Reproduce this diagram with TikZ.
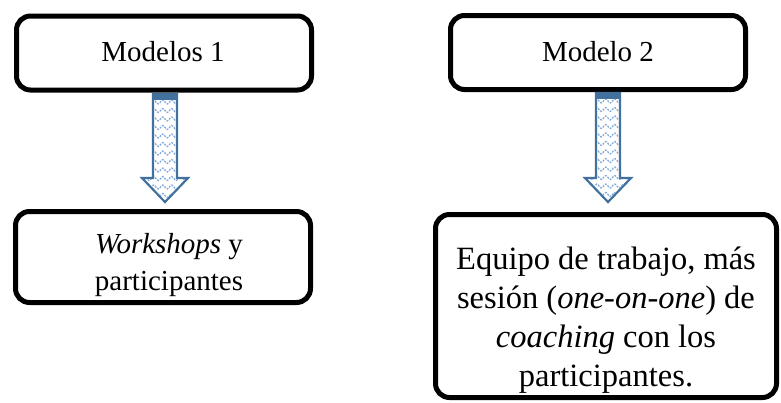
\documentclass[tikz,border=0pt]{standalone}
\usepackage{fontspec}
\setmainfont{Liberation Serif}
\definecolor{arrowblue}{HTML}{41719C}
\definecolor{waveblue}{HTML}{7FA7D9}
\begin{document}
\begin{tikzpicture}[x=1pt,y=-1pt,
  box/.style={draw=black,line width=5pt,rounded corners=14pt,fill=white,inner sep=0pt},
  txt/.style={align=center,font=\fontsize{29}{37}\selectfont,inner sep=0pt},
  bigtxt/.style={align=center,font=\fontsize{32.5}{39.2}\selectfont,inner sep=0pt},
  blockarrow/.style={draw=arrowblue,line width=2.2pt,fill=white,line join=miter},
  wave/.style={draw=waveblue,line width=1.2pt,dash pattern=on 2pt off 1.2pt}]
\useasboundingbox (0,0) rectangle (781,402);
% boxes
\node[box,minimum width=295pt,minimum height=74pt] (b1) at (164,53) {};
\node[box,minimum width=295pt,minimum height=74pt] (b2) at (598,52.5) {};
\node[box,minimum width=295pt,minimum height=91pt] (b3) at (163,257) {};
\node[box,minimum width=341pt,minimum height=183pt] (b4) at (606,306) {};
% texts
\node[txt] (t1) at (163,52) {Modelos 1};
\node[txt] (t2) at (598,52) {Modelo 2};
\node[txt] (t3) at (169,265) {\textit{Workshops} y\\participantes};
\node[bigtxt] (t4) at (606,320) {Equipo de trabajo, más\\sesión (\textit{one-on-one}) de\\\textit{coaching} con los\\participantes.};
% block arrows
\foreach \cx/\top/\tip in {165/94/202, 608/93/202}{
  \path[blockarrow] (\cx-12,\top) -- (\cx+12,\top) -- (\cx+12,178) -- (\cx+23,178)
     -- (\cx,\tip) -- (\cx-23,178) -- (\cx-12,178) -- cycle;
  \begin{scope}
    \clip (\cx-11,\top) -- (\cx+11,\top) -- (\cx+11,179) -- (\cx+21,179)
     -- (\cx,\tip-2) -- (\cx-21,179) -- (\cx-11,179) -- cycle;
    \foreach \k in {0,...,11}{
      \draw[wave] plot[domain=-22:22,samples=30,smooth] (\cx+\x,{\top+8+\k*8.5+2*sin(\x*40)});
    }
  \end{scope}
  \fill[arrowblue] (\cx-12,\top) rectangle (\cx+12,\top+6);
}
\end{tikzpicture}
\end{document}
